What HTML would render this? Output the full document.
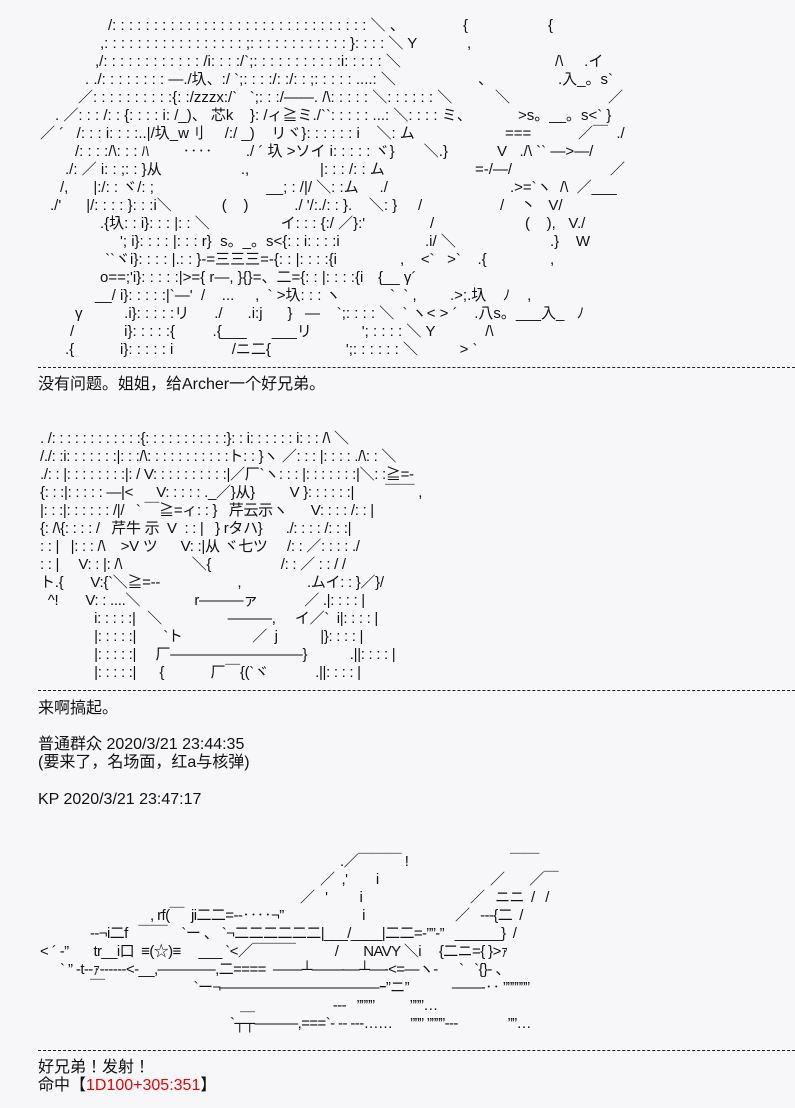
<!DOCTYPE html>
<html><head><meta charset="utf-8">
<style>
html,body{margin:0;padding:0;background:#f7f7f9;}
body{width:795px;height:1108px;position:relative;overflow:hidden;
font-family:"Liberation Sans","Noto Sans CJK JP",sans-serif;color:#111;}
.r{position:absolute;white-space:pre;font-size:15px;line-height:18px;letter-spacing:0px;}
.a2{font-size:15px;letter-spacing:-0.3px;}
.j{letter-spacing:-0.6px;}
.t{position:absolute;white-space:pre;font-size:16px;line-height:18px;left:38px;}
.hr{position:absolute;left:38px;right:0;height:0;border-top:1px dashed #222;}
.red{color:#e00;}
</style></head><body>

<!-- Art 1 -->
<div class="r" style="top:17px;left:108px">/: : : : : : : : : : : : : : : : : : : : : : : : : : : : : : : ＼ 、</div>
<div class="r" style="top:17px;left:463px">{</div><div class="r" style="top:17px;left:548px">{</div>
<div class="r" style="top:35px;left:100px">,: : : : : : : : : : : : : : : : : ;: : : : : : : : : : : : }: : : : ＼ Y</div>
<div class="r" style="top:35px;left:467px">,</div>
<div class="r" style="top:53px;left:95px">,/: : : : : : : : : : : : /i: : : :/`;: : : : : : : : : : :i: : : : : ＼</div>
<div class="r" style="top:53px;left:555px">/\ &nbsp;&nbsp;&nbsp; .イ</div>
<div class="r" style="top:71px;left:85px">. ./: : : : : : : : ―./圦、:/ `;: : : :/: :/: : ;: : : : : ....: ＼</div>
<div class="r" style="top:71px;left:478px">、</div><div class="r" style="top:71px;left:558px">.入_。s`</div>
<div class="r" style="top:89px;left:78px">／: : : : : : : : : :{: :/zzzx:/`   `;: : :/――. /\: : : : : ＼: : : : : : ＼</div>
<div class="r" style="top:89px;left:495px">＼</div><div class="r" style="top:89px;left:608px">／</div>
<div class="r" style="top:107px;left:55px">. ／: : : /: : {: : : : i: /_)、 芯k    }: /ィ≧ミ./``: : : : : ...: ＼: : : : ミ、</div>
<div class="r" style="top:107px;left:518px">&gt;s。__。s&lt;` }</div>
<div class="r" style="top:125px;left:40px">／ ´   /: : : i: : : :..|/圦_w刂     /:/ _)    リヾ}: : : : : : i    ＼: ム</div>
<div class="r" style="top:125px;left:505px">===</div><div class="r" style="top:125px;left:578px">／￣  ./</div>
<div class="r" style="top:143px;left:75px">/: : : :/\: : : ﾊ        ‥‥        ./ ´ 圦 &gt;ソイ i: : : : : ヾ}       ＼.}</div>
<div class="r" style="top:143px;left:497px">V   ./\ `` ―&gt;―/</div>
<div class="r" style="top:161px;left:65px">./: ／ i: : ;: : }从                   .,                 |: : : /: : ム</div>
<div class="r" style="top:161px;left:475px">=-/―/</div><div class="r" style="top:161px;left:610px">／</div>
<div class="r" style="top:179px;left:60px">/,      |:/: : ヾ/: ;                           __; : /|/ ＼: :ム     ./</div>
<div class="r" style="top:179px;left:510px">.&gt;=`ヽ  /\  ／___</div>
<div class="r" style="top:197px;left:50px">./'      |/: : : : }: : :i＼            (    )           ./ '/:./: : }.    ＼: }     /</div>
<div class="r" style="top:197px;left:500px">/    丶   V/</div>
<div class="r" style="top:215px;left:100px">.{圦: : i}: : : |: : ＼                 イ: : : {:/ ／}:'</div>
<div class="r" style="top:215px;left:430px">/</div><div class="r" style="top:215px;left:525px">(    ),   V./</div>
<div class="r" style="top:233px;left:120px">'; i}: : : : |: : : r}  s。_。s&lt;{: : i: : : :i</div>
<div class="r" style="top:233px;left:425px">.i/ ＼</div><div class="r" style="top:233px;left:550px">.}    W</div>
<div class="r" style="top:251px;left:105px">``ヾi}: : : : |.: : }-=三三三=-{: : |: : : :{i</div>
<div class="r" style="top:251px;left:400px">,    &lt;`   &gt;`    .{</div><div class="r" style="top:251px;left:550px">,</div>
<div class="r" style="top:269px;left:100px">o==;'i}: : : : :|&gt;={ r―, }{}=、二={: : |: : : :{i</div>
<div class="r" style="top:269px;left:378px">{__ γ´</div>
<div class="r" style="top:287px;left:95px">__/ i}: : : : :|`―'  /    ...     ,  ` &gt;圦: : : ヽ</div>
<div class="r" style="top:287px;left:390px">`  ` ,        .&gt;;.圦    ﾉ    ,</div>
<div class="r" style="top:305px;left:75px">γ          .i}: : : : :リ      ./      .i:j      }   ―    `;: : : : ＼  ` ヽ&lt; &gt; ´    .八s。___入_   ﾉ</div>
<div class="r" style="top:323px;left:70px">/            i}: : : : :{         .{___      ___リ            '; : : : : ＼ Y            /\</div>
<div class="r" style="top:341px;left:65px">.{           i}: : : : : i              /ニ二{                  ';: : : : : : ＼          &gt; `</div>
<div class="hr" style="top:367px"></div>
<div class="t" style="top:376px">没有问题。姐姐，给Archer一个好兄弟。</div>

<!-- Art 2 -->
<div class="r a2" style="top:430px;left:40px">. /: : : : : : : : : : : :{: : : : : : : : : : :}: : i: : : : : : i: : : /\ ＼</div>
<div class="r a2" style="top:448px;left:40px">/./: :i: : : : : : :|: : :/\: : : : : : : : : : :ト: : }ヽ ／: : : |: : : : ./\: : ＼</div>
<div class="r a2" style="top:466px;left:40px">./: : |: : : : : : : :|: / V: : : : : : : : : :|／厂`ヽ: : : |: : : : : : :|＼: :≧=-</div>
<div class="r a2" style="top:484px;left:40px">{: : :|: : : : : ―|&lt;      V: : : : : ._／}从}         V }: : : : : :|        ￣￣ ,</div>
<div class="r a2" style="top:502px;left:40px">|: : :|: : : : : : /|/   ` ￣≧=ィ: : }   芹云示ヽ      V: : : : /: : |</div>
<div class="r a2" style="top:520px;left:40px">{: /\{: : : : /   芹牛 示  V  : : |   } rタハ}      ./: : : : /: : :|</div>
<div class="r a2" style="top:538px;left:40px">: : |   |: : : /\    &gt;V ツ      V: :|从 ヾ七ツ     /: : ／: : : : ./</div>
<div class="r a2" style="top:556px;left:40px">: : |     V: : |: /\                  ＼{                  /: : ／ : : / /</div>
<div class="r a2" style="top:574px;left:40px">ト.{       V:{`＼≧=--                    ,                 .ムイ: : }／}/</div>
<div class="r a2" style="top:592px;left:40px">  ^!       V: : ....＼              r―――ァ            ／ .|: : : : |</div>
<div class="r a2" style="top:610px;left:40px">              i: : : : :|   ＼                 ―――,     イ／`  i|: : : : |</div>
<div class="r a2" style="top:628px;left:40px">              |: : : : :|       `ト                  ／  j           |}: : : : |</div>
<div class="r a2" style="top:646px;left:40px">              |: : : : :|     厂―――――――――}           .||: : : : |</div>
<div class="r a2" style="top:664px;left:40px">              |: : : : :|      {            厂￣{(`ヾ            .||: : : : |</div>
<div class="hr" style="top:690px"></div>
<div class="t" style="top:700px">来啊搞起。</div>
<div class="t" style="top:736px">普通群众 2020/3/21 23:44:35</div>
<div class="t" style="top:754px">(要来了，名场面，红a与核弹)</div>
<div class="t" style="top:791px">KP 2020/3/21 23:47:17</div>

<!-- Jet -->
<div class="r j" style="top:853px;left:340px">.／￣￣￣ !</div><div class="r j" style="top:853px;left:510px">￣￣</div>
<div class="r j" style="top:871px;left:320px">／  ,'        i</div><div class="r j" style="top:871px;left:490px">／       ／￣</div>
<div class="r j" style="top:889px;left:300px">／   '         i</div><div class="r j" style="top:889px;left:470px">／   ニニ  /   /</div>
<div class="r j" style="top:907px;left:150px">, rf(￣  ji二二=--‥‥¬”                      i</div><div class="r j" style="top:907px;left:455px">／   ---{二  /</div>
<div class="r j" style="top:925px;left:90px">--¬i二f   ￣￣    `ー 、 `¬二二二二二二|___/____|二二=-””-”   ______}  /</div>
<div class="r j" style="top:943px;left:40px">&lt; ´ ‐”       tr__i口  ≡(☆)≡     ___ `&lt;／￣￣￣           /       NAVY ＼i     {二ニ={ }&gt;ｧ</div>
<div class="r j" style="top:961px;left:60px">` ” ‐t‐‐ｧ------&lt;‐__,――――,二====  ――┴――‐―┴―‐&lt;=―ヽ‐      `   `{}‐ 、</div>
<div class="r j" style="top:979px;left:90px">￣                         `ー¬―――――――――――ｰ”ニ”            ――‐‥ ””””””</div>
<div class="r j" style="top:997px;left:240px">＿                      ‐‐‐   ””””          ”””…</div>
<div class="r j" style="top:1015px;left:230px">`┬┬―――,===`‐ ‐‐ ‐‐‐……     ””” ””””‐‐‐              ””…</div>
<div class="hr" style="top:1050px"></div>
<div class="t" style="top:1059px">好兄弟！发射！</div>
<div class="t" style="top:1077px">命中【<span class="red">1D100+305:351</span>】</div>
</body></html>
